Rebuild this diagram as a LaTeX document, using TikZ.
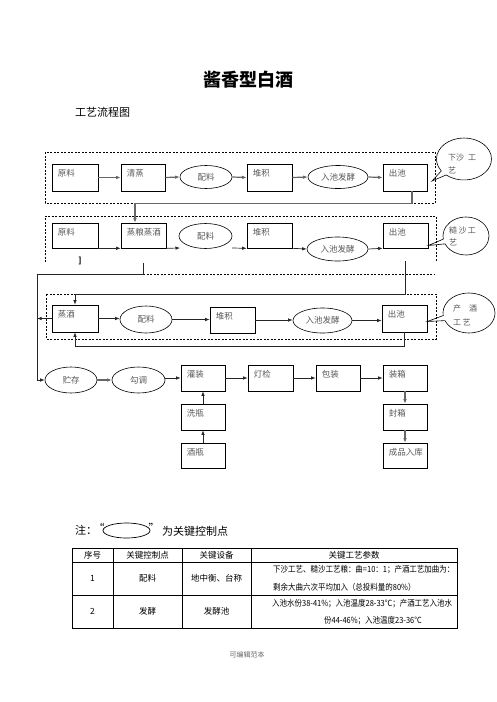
\documentclass[tikz,border=0pt]{standalone}
\usepackage{fontspec}
\setmainfont{Noto Sans CJK SC}
\newfontfamily\condfont{Noto Sans CJK SC}[FakeStretch=0.88]
\usetikzlibrary{shapes.geometric,shapes.callouts,arrows.meta}
\newcommand\pbx[6]{%
  \node[pbox, minimum width=#4pt, minimum height=#5pt] (#1) at (#2,#3) {};
  \node[ptext] (#1t) at ([xshift=6pt,yshift=-9.5pt]#1.north west) {#6};
}
\begin{document}
\begin{tikzpicture}[x=1pt,y=-1pt,
  pbox/.style={draw=black, line width=0.6pt, inner sep=0pt},
  pell/.style={ellipse, draw=black, line width=0.6pt, inner sep=0pt, font=\fontsize{8.5}{10}\selectfont, text=black!65},
  ptext/.style={font=\fontsize{8.5}{10}\selectfont, text=black!65, inner sep=0pt, anchor=west},
  btext/.style={font=\fontsize{8}{9}\selectfont, text=black!65, inner sep=0pt, anchor=west},
  arr/.style={draw=black!85, line width=0.7pt, -{Latex[length=4.5pt,width=3.5pt]}},
  garr/.style={draw=black!60, line width=1.2pt, -{Latex[length=4.5pt,width=3.5pt]}},
  dbox/.style={draw=black, line width=0.6pt, dash pattern=on 2pt off 1.5pt},
  bub/.style={ellipse callout, draw=black, line width=0.6pt, inner sep=0pt},
  tline/.style={draw=black, line width=0.6pt},
  tcell/.style={font=\fontsize{8.5}{10}\selectfont, inner sep=0pt},
  pcell/.style={font=\condfont\fontsize{8.5}{10}\selectfont, inner sep=0pt},
]
\useasboundingbox[fill=white] (0,0) rectangle (496,702);

% titles
\node[font=\fontsize{18}{20}\selectfont\bfseries] (title) at (248,80) {酱香型白酒};
\node[font=\fontsize{11}{12}\selectfont, anchor=west, inner sep=0pt] (sub) at (75,112) {工艺流程图};

% dashed frames
\draw[dbox] (45,152) rectangle (435,203);
\draw[dbox] (45,262) -- (45,216) -- (436,216) -- (436,262);
\draw[dbox] (143,274) -- (435,274);
\draw[dbox] (46,294) rectangle (436,339);

% row 1
\pbx{r1a}{75}{177.5}{46}{27}{原料}
\pbx{r1b}{143}{177.5}{44}{27}{清蒸}
\node[pell, minimum width=52pt, minimum height=23pt] (r1c) at (206,177) {配料};
\pbx{r1d}{269.5}{177.5}{45}{27}{堆积}
\node[pell, minimum width=60pt, minimum height=23pt] (r1e) at (338,177) {入池发酵};
\pbx{r1f}{405}{177.5}{44}{27}{出池}
\draw[garr] (r1a.east) -- (r1b.west);
\draw[garr] (r1b.east) -- (r1c.west);
\draw[garr] (r1c.east) -- (r1d.west);
\draw[garr] (r1d.east) -- (r1e.west);
\draw[garr] (r1e.east) -- (r1f.west);

% row 2
\pbx{r2a}{75}{235.5}{46}{25}{原料}
\pbx{r2b}{143.5}{235.5}{45}{25}{蒸粮蒸酒}
\node[pell, minimum width=53pt, minimum height=25pt] (r2c) at (205.5,236) {配料};
\pbx{r2d}{269.5}{235.5}{45}{25}{堆积}
\node[pell, minimum width=61pt, minimum height=24pt] (r2e) at (337.5,249) {入池发酵};
\pbx{r2f}{405.5}{235.5}{45}{25}{出池}
\coordinate (r2cin) at (180,248);
\coordinate (r2cout) at (232,248);
\draw[arr] (r2a.south east) -- (r2b.south west);
\draw[arr] (r2b.south east) -- (r2cin);
\draw[arr] (r2cout) -- (r2d.south west);
\draw[arr] (r2d.south east) -- (r2e.west);
\draw[arr] (r2e.east) -- (r2f.south west);
\node[font=\bfseries\fontsize{8}{9}\selectfont, inner sep=0pt] (brk) at (80,261) {]};

% connector row1 -> row2
\draw[garr] ([xshift=7pt]r1f.south) -- ++(0,12) -| ([xshift=-8.5pt]r2b.north);

% row 3
\pbx{r3a}{75}{318.5}{46}{27}{蒸酒}
\node[pell, minimum width=52pt, minimum height=27pt] (r3b) at (146,319.5) {配料};
\pbx{r3c}{232.5}{320}{45}{26}{堆积}
\node[pell, minimum width=59pt, minimum height=25pt] (r3d) at (322.5,320.5) {入池发酵};
\pbx{r3e}{404.5}{318.5}{45}{27}{出池}
\draw[arr] (r3a.east) -- (r3a.east -| r3b.west);
\draw[arr] (r3b.east) -- (r3b.east -| r3c.west);
\draw[arr] (r3c.east) -- (r3c.east -| r3d.west);
\draw[arr] (r3d.east) -- (r3d.east -| r3e.west);

% row 4
\node[pell, minimum width=52pt, minimum height=26pt] (r4a) at (71,380) {贮存};
\node[pell, minimum width=53pt, minimum height=26pt] (r4b) at (138.5,380) {勾调};
\pbx{r4c}{203}{378}{44}{26}{灌装}
\pbx{r4d}{270.5}{378}{45}{26}{灯检}
\pbx{r4e}{338}{378}{44}{26}{包装}
\pbx{r4f}{405}{378}{44}{26}{装箱}
\pbx{r4g}{203}{417}{44}{26}{洗瓶}
\pbx{r4h}{203}{455.5}{44}{25}{酒瓶}
\pbx{r4i}{405}{417}{44}{26}{封箱}
\pbx{r4j}{405}{455.5}{44}{25}{成品入库}
\draw[garr] (r4a.east) -- (r4b.west);
\draw[arr] (r4c.west -| r4b.east) -- (r4c.west);
\draw[arr] (r4c.east) -- (r4d.west);
\draw[arr] (r4d.east) -- (r4e.west);
\draw[arr] (r4e.east) -- (r4f.west);
\draw[arr] (r4h.north) -- (r4g.south);
\draw[arr] (r4g.north) -- (r4c.south);
\draw[garr] (r4f.south) -- (r4i.north);
\draw[garr] (r4i.south) -- (r4j.north);

% long connectors
\coordinate (lb) at (37,274);
\draw[arr] ([yshift=-15pt]r2b.south) |- (lb) |- (r4a.west);
\draw[arr] ([yshift=-13pt]r2f.south) -- ++(0,33) -| (r3a.north);
\draw[arr] (r3e.south) -- ++(0,14) -| (r3a.south);
\draw[arr] (r3a.west) -- (r3a.west -| lb);

% bubbles
\node[bub, minimum width=55pt, minimum height=42pt, callout absolute pointer={(432,181)}] (b1) at (464,159) {};
\node[bub, minimum width=46pt, minimum height=38pt, callout absolute pointer={([yshift=-10pt]r2f.east)}] (b2) at (466,236) {};
\node[bub, minimum width=52pt, minimum height=40pt, callout absolute pointer={([yshift=-3pt]r3e.east)}] (b3) at (469,313) {};
\node[btext] (b1t1) at (448,158) {下沙\,\,\,工};
\node[btext] (b1t2) at (448,170.5) {艺};
\node[btext] (b2t1) at (449,230) {糙\,沙\,工};
\node[btext] (b2t2) at (449,242) {艺};
\node[btext] (b3t1) at (453,308) {产\quad 酒};
\node[btext] (b3t2) at (453,322) {工\,艺};

% note
\node[font=\fontsize{11}{12}\selectfont, anchor=west, inner sep=0pt] (n1) at (75,530) {注：};
\node[font=\fontsize{11}{12}\selectfont, inner sep=0pt] (n2) at (99,528) {“};
\node[ellipse, draw=black, line width=0.7pt, minimum width=47pt, minimum height=15pt, inner sep=0pt] (nell) at (126.5,530.5) {};
\node[font=\fontsize{11}{12}\selectfont, inner sep=0pt] (n3) at (154,528) {”};
\node[font=\fontsize{11}{12}\selectfont, anchor=west, inner sep=0pt] (n4) at (162,531) {为关键控制点};

% table
\draw[tline] (72,548) rectangle (457,628);
\draw[tline] (72,562) -- (457,562);
\draw[tline] (72,595) -- (457,595);
\draw[tline] (113,548) -- (113,628);
\draw[tline] (182,548) -- (182,628);
\draw[tline] (251,548) -- (251,628);
\node[tcell] (h1) at (92.5,555) {序号};
\node[tcell] (h2) at (147.5,555) {关键控制点};
\node[tcell] (h3) at (216.5,555) {关键设备};
\node[tcell] (h4) at (354,555) {关键工艺参数};
\node[tcell] (c11) at (92.5,578.5) {1};
\node[tcell] (c12) at (147.5,578.5) {配料};
\node[tcell] (c13) at (216.5,578.5) {地中衡、台称};
\node[pcell, anchor=west] (c14a) at (273,570) {下沙工艺、糙沙工艺粮：曲=10：1；产酒工艺加曲为：};
\node[pcell, anchor=west] (c14b) at (273,587) {剩余大曲六次平均加入（总投料量的80\%）};
\node[tcell] (c21) at (92.5,611.5) {2};
\node[tcell] (c22) at (147.5,611.5) {发酵};
\node[tcell] (c23) at (216.5,611.5) {发酵池};
\node[pcell, anchor=west] (c24a) at (272,604) {入池水份38-41\%；入池温度28-33℃；产酒工艺入池水};
\node[pcell] (c24b) at (373,621) {份44-46\%；入池温度23-36℃};

% footer
\node[font=\fontsize{7}{8}\selectfont, text=black!60] (foot) at (247,655) {可编辑范本};
\end{tikzpicture}
\end{document}
